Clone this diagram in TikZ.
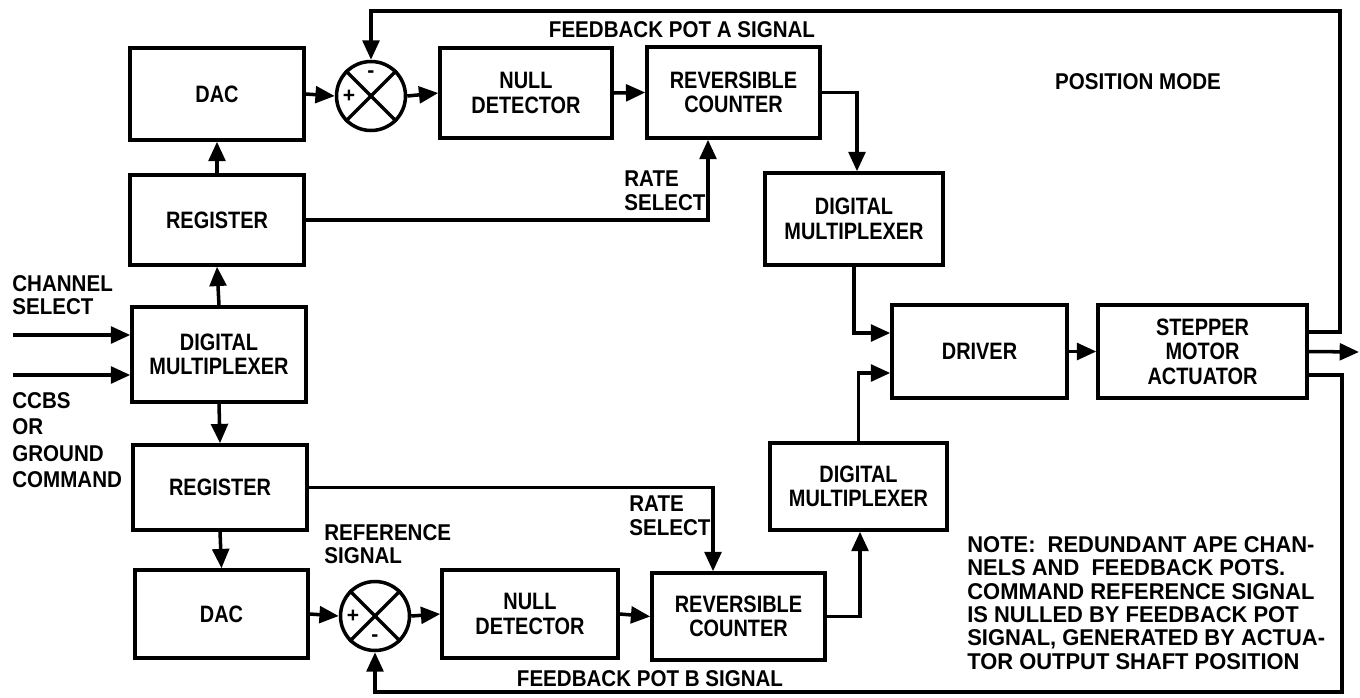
\documentclass[tikz,border=0pt]{standalone}
\usepackage{fontspec}
\setmainfont{Liberation Sans}
\newfontfamily\boxfam{Liberation Sans}[FakeStretch=0.84]
\newfontfamily\labfam{Liberation Sans}[FakeStretch=0.9]
\newfontfamily\notefam{Liberation Sans}[FakeStretch=0.96]
\usetikzlibrary{arrows.meta,calc}
\newcommand\boxtxt{\boxfam\bfseries\fontsize{13.5}{14}\selectfont}
\newcommand\labtxt{\labfam\bfseries\fontsize{13}{13.4}\selectfont}
\newcommand\notetxt{\notefam\bfseries\fontsize{13}{13.3}\selectfont}
\tikzset{
  blk/.style={draw, line width=2pt, font=\boxtxt, align=center, inner sep=0pt},
  sumj/.style={draw, circle, line width=2pt, minimum size=1.38cm, inner sep=0pt},
  arr/.style={line width=2pt, -{Triangle[length=11pt,width=9.5pt]}},
  wire/.style={line width=2pt},
  lab/.style={font=\labtxt, align=left, inner sep=0pt},
  sgn/.style={font=\bfseries\fontsize{12}{12}\selectfont, inner sep=0pt}
}
\begin{document}
\begin{tikzpicture}[x=0.02cm,y=-0.02cm]
\useasboundingbox (0,0) rectangle (1360,697);
% top row
\node[blk, minimum width=3.48cm, minimum height=1.84cm] (dac1) at (217,94) {DAC};
\node[sumj] (s1) at (371,96) {};
\node[blk, minimum width=3.44cm, minimum height=1.8cm] (null1) at (526,93) {NULL\\DETECTOR};
\node[blk, minimum width=3.46cm, minimum height=1.82cm] (rev1) at (733.5,92.5) {REVERSIBLE\\COUNTER};
\node[blk, minimum width=3.48cm, minimum height=1.8cm] (reg1) at (217,220) {REGISTER};
\node[blk, minimum width=3.56cm, minimum height=1.84cm] (dmux1) at (854,219) {DIGITAL\\MULTIPLEXER};
% middle
\node[blk, minimum width=3.48cm, minimum height=1.9cm] (dmux0) at (219,354.5) {DIGITAL\\MULTIPLEXER};
\node[blk, minimum width=3.5cm, minimum height=1.86cm] (drv) at (979.5,351.5) {DRIVER};
\node[blk, minimum width=4.18cm, minimum height=1.86cm] (stp) at (1202.5,351.5) {STEPPER\\MOTOR\\ACTUATOR};
% bottom
\node[blk, minimum width=3.48cm, minimum height=1.7cm] (reg2) at (220,487.5) {REGISTER};
\node[blk, minimum width=3.54cm, minimum height=1.74cm] (dmux2) at (858.5,486.5) {DIGITAL\\MULTIPLEXER};
\node[blk, minimum width=3.46cm, minimum height=1.76cm] (dac2) at (221.5,614) {DAC};
\node[sumj] (s2) at (375,616) {};
\node[blk, minimum width=3.52cm, minimum height=1.76cm] (null2) at (530,614) {NULL\\DETECTOR};
\node[blk, minimum width=3.46cm, minimum height=1.74cm] (rev2) at (738.5,616.5) {REVERSIBLE\\COUNTER};

% summing junction crosses and signs
\foreach \s in {s1,s2}{
  \draw[wire] (\s.north east) -- (\s.south west);
  \draw[wire] (\s.north west) -- (\s.south east);
  \node[sgn] at ([xshift=-0.44cm]\s.center) {+};
}
\node[sgn] at ([yshift=0.44cm]s1.center) {-};
\node[sgn] at ([yshift=-0.44cm]s2.center) {-};

% coordinates for loops and outputs
\coordinate (fa) at (1340,11);
\coordinate (fb) at (1342,692);
\coordinate (out) at (1359,352);
\coordinate (in1) at (13,335);
\coordinate (in2) at (13,375);

% top chain
\draw[arr] (dac1.east) -- (s1.west);
\draw[arr] (s1.east) -- (null1.west);
\draw[arr] (null1.east) -- (rev1.west);
\draw[arr] (rev1.east) -| ([xshift=0.06cm]dmux1.north);
\draw[arr] (reg1.east) -| ([xshift=-0.51cm]rev1.south);
\draw[arr] (reg1.north) -- (dac1.south);
\draw[arr] (dmux0.north) -- (reg1.south);
\draw[arr] (in1) -- (in1 -| dmux0.west);
\draw[arr] (in2) -- (in2 -| dmux0.west);
% bottom chain
\draw[arr] (dmux0.south) -- (reg2.north);
\draw[arr] (reg2.south) -- (dac2.north);
\draw[arr] (dac2.east) -- (s2.west);
\draw[arr] (s2.east) -- (null2.west);
\draw[arr] (null2.east) -- (rev2.west);
\draw[arr] (reg2.east) -| ([xshift=-0.51cm]rev2.north);
\draw[arr] (rev2.east) -| ([xshift=0.03cm]dmux2.south);
% driver and actuator
\draw[arr] (dmux1.south) |- ([yshift=0.37cm]drv.west);
\draw[arr] (dmux2.north) |- ([yshift=-0.43cm]drv.west);
\draw[arr] (drv.east) -- (stp.east -| stp.west);
\draw[arr] (stp.east) -- (out);
% feedback loops
\draw[arr] ([yshift=0.39cm]stp.east) -| (fa) -| (s1.north);
\draw[arr] ([yshift=-0.47cm]stp.east) -| (fb) -| (s2.south);

% labels
\node[lab] (lfa) at (682,30) {FEEDBACK POT A SIGNAL};
\node[lab] (lfb) at (650,679) {FEEDBACK POT B SIGNAL};
\node[lab] (lpm) at (1138,82) {POSITION MODE};
\node[lab, anchor=west] (lrs1) at (624,191) {RATE\\SELECT};
\node[lab, anchor=west] (lrs2) at (629,516) {RATE\\SELECT};
\node[lab, anchor=west] (lref) at (324,544) {REFERENCE\\SIGNAL};
\node[lab, anchor=west] (lch) at (12,295) {CHANNEL\\SELECT};
\node[lab, anchor=west, font=\labfam\bfseries\fontsize{13}{15}\selectfont] (lcc) at (12,440) {CCBS\\OR\\GROUND\\COMMAND};
\node[lab, anchor=west, font=\notetxt] (lnote) at (967,603) {NOTE:\ \ REDUNDANT APE CHAN-\\NELS AND\ \ FEEDBACK POTS.\\COMMAND REFERENCE SIGNAL\\IS NULLED BY FEEDBACK POT\\SIGNAL, GENERATED BY ACTUA-\\TOR OUTPUT SHAFT POSITION};
\end{tikzpicture}
\end{document}
